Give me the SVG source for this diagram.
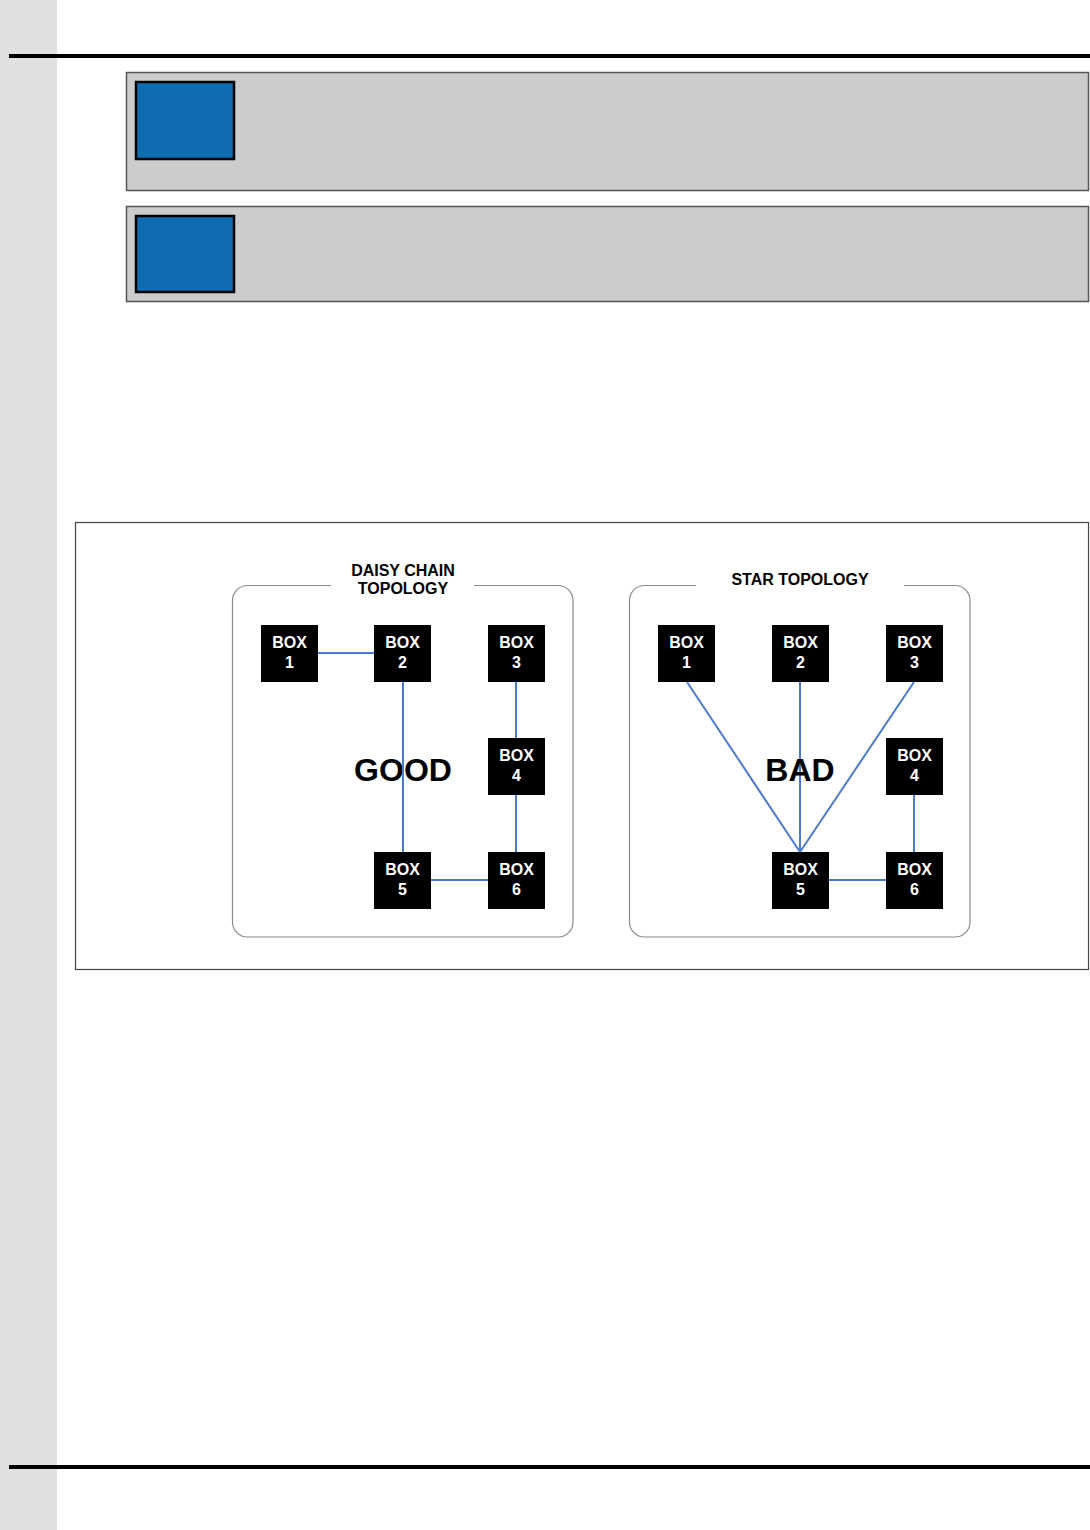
<svg xmlns="http://www.w3.org/2000/svg" width="1090" height="1530" viewBox="0 0 1090 1530">
<style>
.box rect{fill:#000}
.box text{fill:#fff;font-family:"Liberation Sans",Arial,sans-serif;font-weight:bold;font-size:16px;text-anchor:middle}
.title{fill:#000;font-family:"Liberation Sans",Arial,sans-serif;font-weight:bold;font-size:16px;text-anchor:middle}
.big{fill:#000;font-family:"Liberation Sans",Arial,sans-serif;font-weight:bold;font-size:32px;text-anchor:middle}
.conn line{stroke:#4a7cc8;stroke-width:2}
.panel{fill:#cccccc;stroke:#555;stroke-width:1.5}
.blue{fill:#106cb0;stroke:#000;stroke-width:2.5}
.group{fill:none;stroke:#8a8a8a;stroke-width:1.2}
</style>
<rect x="0" y="0" width="1090" height="1530" fill="#fff"/>
<rect x="0" y="0" width="57" height="1530" fill="#e0e0e0"/>
<rect x="9" y="54" width="1081" height="4" fill="#000"/>
<rect x="9" y="1465" width="1081" height="4" fill="#000"/>
<g id="panel1">
<rect class="panel" x="126.5" y="72.5" width="962" height="118"/>
<rect class="blue" x="136" y="82" width="98" height="77"/>
</g>
<g id="panel2">
<rect class="panel" x="126.5" y="206.5" width="962" height="95"/>
<rect class="blue" x="136" y="216" width="98" height="76"/>
</g>
<rect x="75.5" y="522.5" width="1013" height="447" fill="none" stroke="#444" stroke-width="1.2"/>
<g id="daisy-frame">
<path class="group" d="M331 585.5 H247.5 A15 15 0 0 0 232.5 600.5 V922 A15 15 0 0 0 247.5 937 H558 A15 15 0 0 0 573 922 V600.5 A15 15 0 0 0 558 585.5 H474"/>
<text class="title" x="403" y="576">DAISY CHAIN</text>
<text class="title" x="403" y="594">TOPOLOGY</text>
<text class="big" x="403" y="781">GOOD</text>
</g>
<g id="star-frame">
<path class="group" d="M696 585.5 H644.5 A15 15 0 0 0 629.5 600.5 V922 A15 15 0 0 0 644.5 937 H955 A15 15 0 0 0 970 922 V600.5 A15 15 0 0 0 955 585.5 H904"/>
<text class="title" x="800" y="585">STAR TOPOLOGY</text>
</g>
<g id="connectors" class="conn">
<line x1="318" y1="653" x2="374" y2="653"/>
<line x1="403" y1="682" x2="403" y2="852"/>
<line x1="516" y1="682" x2="516" y2="738"/>
<line x1="516" y1="795" x2="516" y2="852"/>
<line x1="431" y1="880" x2="488" y2="880"/>
<line x1="687" y1="682" x2="800" y2="852"/>
<line x1="800" y1="682" x2="800" y2="852"/>
<line x1="914" y1="682" x2="800" y2="852"/>
<line x1="914" y1="795" x2="914" y2="852"/>
<line x1="829" y1="880" x2="886" y2="880"/>
</g>
<text class="big" x="800" y="781">BAD</text>
<g id="d-box1" class="box"><rect x="261" y="625" width="57" height="57"/><text x="289.5" y="648">BOX</text><text x="289.5" y="668">1</text></g>
<g id="d-box2" class="box"><rect x="374" y="625" width="57" height="57"/><text x="402.5" y="648">BOX</text><text x="402.5" y="668">2</text></g>
<g id="d-box3" class="box"><rect x="488" y="625" width="57" height="57"/><text x="516.5" y="648">BOX</text><text x="516.5" y="668">3</text></g>
<g id="d-box4" class="box"><rect x="488" y="738" width="57" height="57"/><text x="516.5" y="761">BOX</text><text x="516.5" y="781">4</text></g>
<g id="d-box5" class="box"><rect x="374" y="852" width="57" height="57"/><text x="402.5" y="875">BOX</text><text x="402.5" y="895">5</text></g>
<g id="d-box6" class="box"><rect x="488" y="852" width="57" height="57"/><text x="516.5" y="875">BOX</text><text x="516.5" y="895">6</text></g>
<g id="s-box1" class="box"><rect x="658" y="625" width="57" height="57"/><text x="686.5" y="648">BOX</text><text x="686.5" y="668">1</text></g>
<g id="s-box2" class="box"><rect x="772" y="625" width="57" height="57"/><text x="800.5" y="648">BOX</text><text x="800.5" y="668">2</text></g>
<g id="s-box3" class="box"><rect x="886" y="625" width="57" height="57"/><text x="914.5" y="648">BOX</text><text x="914.5" y="668">3</text></g>
<g id="s-box4" class="box"><rect x="886" y="738" width="57" height="57"/><text x="914.5" y="761">BOX</text><text x="914.5" y="781">4</text></g>
<g id="s-box5" class="box"><rect x="772" y="852" width="57" height="57"/><text x="800.5" y="875">BOX</text><text x="800.5" y="895">5</text></g>
<g id="s-box6" class="box"><rect x="886" y="852" width="57" height="57"/><text x="914.5" y="875">BOX</text><text x="914.5" y="895">6</text></g>
</svg>
